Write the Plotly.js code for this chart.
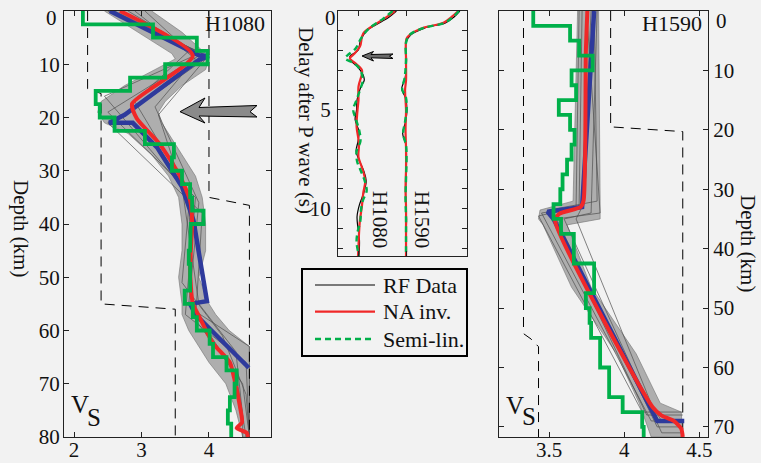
<!DOCTYPE html>
<html><head><meta charset="utf-8">
<script src="https://cdn.plot.ly/plotly-3.0.1.min.js"></script>
<style>html,body{margin:0;padding:0;background:#f2f2f2;}#c{width:761px;height:463px;}</style>
</head><body><div id="c"></div>
<script>
// ---------------- DATA ----------------
// Left panel H1080 : Vs (km/s) vs depth (km)
const h1080RedDepth = [0,8.4,17.4,20.2,25,31,35.6,39.5,48.7,54.9,57.5,62.4,66,69.3,74.3,77.3,78.3,79.2,80];
const h1080RedVs    = [2.68,3.76,2.86,2.93,3.27,3.57,3.72,3.75,3.72,3.76,3.86,4.06,4.31,4.38,4.46,4.49,4.41,4.56,4.58];
const h1080BlueDepth = [0,8.3,8.5,9.2,19.5,21,21,25.6,33,39.3,54.5,55,57,66.5,67];
const h1080BlueVs    = [2.53,3.85,4.0,3.85,2.75,2.52,2.87,3.23,3.6,3.77,3.97,3.72,3.8,4.57,4.59];
const h1080GreenLayerVs = [2.13,3.17,3.82,3.98,3.35,2.83,2.32,2.38,2.6,3.05,3.48,3.45,3.6,3.72,3.75,3.92,
                           3.73,3.72,3.70,3.72,3.72,3.64,3.76,3.82,4.01,4.06,4.26,4.41,4.38,4.31,4.28,4.33];
const h1080EnvDepth = [0,4,8,9,11,14,17,19,21,23,27,31,35,40,45,50,55,57,60,63,66,70,75,80];
const h1080EnvMin   = [2.45,2.95,3.45,3.5,3.2,2.75,2.4,2.35,2.45,2.8,3.15,3.4,3.55,3.6,3.6,3.55,3.6,3.6,3.7,3.85,4.0,4.25,4.4,4.5];
const h1080EnvMax   = [3.15,3.6,3.95,4.0,3.95,3.6,3.35,3.25,3.3,3.4,3.6,3.8,3.9,3.95,3.95,3.85,4.0,4.1,4.3,4.6,4.6,4.6,4.6,4.6];
const h1080Models = [
  {d:[0,8,19,35,57,66,80],        v:[2.6,3.9,2.5,3.8,3.65,4.55,4.6]},
  {d:[0,9,18,36,55,68,80],        v:[2.9,3.8,3.2,3.85,3.7,4.4,4.55]},
  {d:[0,8.5,20,21,38,58,70,80],   v:[2.5,4.0,2.7,2.5,3.9,3.8,4.5,4.6]},
  {d:[0,7.5,17,34,56,63,80],      v:[3.05,3.7,2.9,3.7,3.75,4.6,4.6]},
  {d:[0,9,19.5,37,51,61,72,80],   v:[2.7,3.95,3.25,3.7,3.6,4.2,4.55,4.6]},
  {d:[0,8,16,33,55,64,76,80],     v:[2.8,3.85,2.45,3.6,3.85,4.4,4.5,4.5]}
];
const h1080LowBoundDepth = [0,14.6,15.5,55,56,80];
const h1080LowBoundVs    = [2.2,2.2,2.4,2.4,3.5,3.5];
const h1080UpBoundDepth  = [0,35,36.5,80];
const h1080UpBoundVs     = [4.0,4.0,4.6,4.6];

// Right panel H1590
const h1590RedDepth = [0,7,31.9,33,34.1,35.2,66.7,68.1,69,70.3,71.7];
const h1590RedVs    = [3.755,3.745,3.73,3.71,3.57,3.54,4.19,4.25,4.33,4.38,4.39];
const h1590BlueDepth = [0,33,33.8,35,69,69];
const h1590BlueVs    = [3.80,3.72,3.49,3.53,4.22,4.40];
const h1590GreenLayerVs = [3.395,3.64,3.70,3.79,3.65,3.68,3.565,3.64,3.67,3.65,3.62,3.59,3.575,3.53,3.58,
                           3.665,3.665,3.80,3.80,3.745,3.77,3.78,3.84,3.84,3.90,3.90,3.99,4.12,4.13];
const h1590EnvDepthLow = [0,32,33.5,35,36,46.5,57.7,66,71.7];
const h1590EnvMin      = [3.69,3.66,3.44,3.43,3.46,3.65,3.95,4.1,4.18];
const h1590EnvDepthUp  = [0,32,33.5,35,36,46.5,57.7,66,67.5,71.7];
const h1590EnvMax      = [3.83,3.84,3.84,3.84,3.62,3.78,4.08,4.24,4.38,4.39];
const h1590Models = [
  {d:[0,33,34,69,69],     v:[3.72,3.7,3.45,4.18,4.38]},
  {d:[0,32,33.5,68,68],   v:[3.8,3.82,3.5,4.15,4.39]},
  {d:[0,34,35,70,70],     v:[3.75,3.84,3.55,4.22,4.39]},
  {d:[0,33,34.5,67.5,67.5], v:[3.7,3.68,3.43,4.12,4.39]},
  {d:[0,34,35,71,71],     v:[3.82,3.78,3.6,4.25,4.39]},
  {d:[0,33,35,66.7,69,69], v:[3.78,3.72,3.68,4.19,4.25,4.39]}
];
const h1590LowBoundDepth = [0,54.3,55.2,56.5,71.7];
const h1590LowBoundVs    = [3.33,3.33,3.38,3.43,3.43];
const h1590UpBoundDepth  = [0,19.5,20.3,71.7];
const h1590UpBoundVs     = [3.91,3.91,4.39,4.39];

// Middle panel : receiver functions (delay s, amplitude)
const rf1080DataT = [0,0.3,0.6,1.0,1.5,2.0,2.3,2.55,2.85,3.2,3.5,3.9,4.5,5.0,5.5,6.1,6.6,7.1,7.6,8.1,8.6,9.2,9.8,10.4,11.0,11.6,12.4];
const rf1080DataA = [0.8,0.65,0.45,0.18,0.05,0.0,-0.17,-0.13,0.0,0.1,0.13,0.05,-0.02,-0.03,-0.06,0.02,0.0,-0.04,0.03,0.12,0.17,0.12,0.03,-0.02,0.0,0.03,0.02];
const rf1080NaT = [0,0.3,0.63,1.13,1.8,2.22,2.39,2.64,2.98,3.2,3.82,4.5,5.0,5.85,6.7,7.4,7.9,8.6,9.2,9.9,10.6,11.3,11.9,12.4];
const rf1080NaA = [0.77,0.6,0.39,0.11,0.04,-0.1,-0.17,-0.06,0.08,0.08,0.01,0.01,-0.01,-0.03,0.02,0.01,0.08,0.15,0.11,0.08,0.04,0.02,0.01,0.0];
const rf1080SlT = [0,0.4,0.9,1.4,1.9,2.2,2.4,2.65,3.0,3.5,4.0,4.5,5.0,5.5,6.1,6.6,7.1,7.6,8.1,8.6,9.1,9.6,10.1,10.6,11.2,11.7,12.4];
const rf1080SlA = [0.72,0.52,0.22,0.06,-0.05,-0.2,-0.27,-0.08,0.05,0.1,0.04,-0.03,-0.1,-0.04,0.03,0.05,-0.03,-0.02,0.06,0.14,0.18,0.1,0.06,0.05,-0.01,-0.03,0.02];
const rf1590DataT = [0,0.3,0.6,0.85,1.2,1.6,2.5,3.4,3.95,4.4,5.0,5.6,6.2,6.8,7.5,8.5,9.5,10.5,11.5,12.4];
const rf1590DataA = [1.12,1.0,0.82,0.4,0.1,0.0,0.01,-0.02,-0.09,-0.01,0.02,-0.01,-0.07,0.0,0.01,0.0,-0.01,0.01,0.0,0.0];
const rf1590NaT = [0,0.3,0.6,0.85,1.2,1.4,2.5,3.5,4.0,5,6,7,8,9,10,11,12.4];
const rf1590NaA = [1.09,0.95,0.78,0.36,0.08,0.01,0.0,0.0,-0.02,0.0,-0.01,0.0,0.0,-0.01,0.0,0.0,0.0];
const rf1590SlT = [0,0.3,0.6,0.85,1.2,1.6,2.5,3.4,3.95,4.4,5.0,5.6,6.2,6.8,7.5,8.5,9.5,10.5,11.5,12.4];
const rf1590SlA = [1.1,0.98,0.8,0.38,0.08,0.0,0.0,-0.03,-0.08,0.0,0.01,-0.02,-0.06,0.0,0.01,0.0,-0.01,0.0,0.0,0.0];

const depthTicksLeft = [0,10,20,30,40,50,60,70,80];
const depthTicksRight = [0,10,20,30,40,50,60,70];
const vsTicksLeft = [2,3,4];
const vsTicksRight = [3.5,4,4.5];
const vsTickTextRight = ['3.5','4','4.5'];
const delayTicks = [0,1,2,3,4,5,6,7,8,9,10,11,12];
const delayLabels = ['','','','','','5','','','','','10','',''];
const legendNames = ['RF Data','NA inv.','Semi-lin.'];
const layerThickness = 2.5;

// ---------------- DRAWING ----------------
const W=761, H=463;
const X = p => p/W, Y = p => 1 - p/H;
const FONT = 'Liberation Serif, Times New Roman, serif';
const RED='#f02828', BLUE='#2e3a9c', GREEN='#00b04a';

function steps(layerVs, maxD){
  const x=[], y=[];
  layerVs.forEach((v,i)=>{ x.push(v,v); y.push(i*layerThickness, Math.min((i+1)*layerThickness, maxD)); });
  return {x,y};
}
const traces=[];
function addPanel(xa, ya, env, models, low, up, blue, red, greenLayers, maxD){
  traces.push({x: env.x, y: env.y, xaxis:xa, yaxis:ya, mode:'lines', fill:'toself',
    fillcolor:'rgba(145,145,145,0.7)', line:{color:'rgba(120,120,120,0.8)', width:0.8}, showlegend:false, hoverinfo:'skip'});
  models.forEach(m=>traces.push({x:m.v, y:m.d, xaxis:xa, yaxis:ya, mode:'lines', line:{color:'rgba(80,80,80,0.7)', width:1}, showlegend:false}));
  [low, up].forEach(b=>traces.push({x:b.v, y:b.d, xaxis:xa, yaxis:ya, mode:'lines', line:{color:'#000', width:1, dash:'10px,7px'}, showlegend:false}));
  traces.push({x:blue.v, y:blue.d, xaxis:xa, yaxis:ya, mode:'lines', line:{color:BLUE, width:4.5}, showlegend:false});
  traces.push({x:red.v, y:red.d, xaxis:xa, yaxis:ya, mode:'lines', line:{color:RED, width:4, shape:'spline', smoothing:0.6}, showlegend:false});
  const g = steps(greenLayers, maxD);
  traces.push({x:g.x, y:g.y, xaxis:xa, yaxis:ya, mode:'lines', line:{color:GREEN, width:3.8}, showlegend:false});
}
addPanel('x','y',
  {x: h1080EnvMin.concat(h1080EnvMax.slice().reverse()), y: h1080EnvDepth.concat(h1080EnvDepth.slice().reverse())},
  h1080Models,
  {v:h1080LowBoundVs, d:h1080LowBoundDepth}, {v:h1080UpBoundVs, d:h1080UpBoundDepth},
  {v:h1080BlueVs, d:h1080BlueDepth}, {v:h1080RedVs, d:h1080RedDepth}, h1080GreenLayerVs, 80);
addPanel('x3','y3',
  {x: h1590EnvMin.concat(h1590EnvMax.slice().reverse()), y: h1590EnvDepthLow.concat(h1590EnvDepthUp.slice().reverse())},
  h1590Models,
  {v:h1590LowBoundVs, d:h1590LowBoundDepth}, {v:h1590UpBoundVs, d:h1590UpBoundDepth},
  {v:h1590BlueVs, d:h1590BlueDepth}, {v:h1590RedVs, d:h1590RedDepth}, h1590GreenLayerVs, 71.7);

// receiver functions: station baselines
const baseline = {h1080:0, h1590:1};
const sData={line:{color:'#000', width:1.2, shape:'spline'}};
const sNa={line:{color:RED, width:2.2, shape:'spline'}};
const sSl={line:{color:GREEN, width:2.4, dash:'6px,4px', shape:'spline'}};
function rf(t,a,base,style){
  traces.push(Object.assign({x:a.map(v=>v+base), y:t, xaxis:'x2', yaxis:'y2', mode:'lines', showlegend:false}, style));
}
rf(rf1080DataT, rf1080DataA, baseline.h1080, sData);
rf(rf1080NaT, rf1080NaA, baseline.h1080, sNa);
rf(rf1080SlT, rf1080SlA, baseline.h1080, sSl);
rf(rf1590DataT, rf1590DataA, baseline.h1590, sData);
rf(rf1590NaT, rf1590NaA, baseline.h1590, sNa);
rf(rf1590SlT, rf1590SlA, baseline.h1590, sSl);

const axCommon = {showgrid:false, zeroline:false, showline:true, linecolor:'#222', linewidth:1,
  ticks:'inside', ticklen:5, tickcolor:'#222', mirror:'ticks', tickfont:{family:FONT, size:21, color:'#111'}, fixedrange:true};
const layout = {
  width:W, height:H, margin:{l:0,r:0,t:0,b:0}, paper_bgcolor:'#f2f2f2', plot_bgcolor:'#f2f2f2',
  font:{family:FONT, color:'#111'}, showlegend:false,
  xaxis: Object.assign({}, axCommon, {domain:[X(64),X(271)], range:[1.85,4.92], tickvals:vsTicksLeft, anchor:'y', ticklabelstandoff:-6}),
  yaxis: Object.assign({}, axCommon, {domain:[Y(437),Y(11)], range:[80,0], tickvals:depthTicksLeft, ticktext:depthTicksLeft.map(v=>v===0?'':String(v)), anchor:'x', ticklabelstandoff:-1}),
  xaxis2: Object.assign({}, axCommon, {domain:[X(338),X(467)], range:[-0.417,2.27], tickvals:[baseline.h1080, baseline.h1590], showticklabels:false, anchor:'y2'}),
  yaxis2: Object.assign({}, axCommon, {domain:[Y(256),Y(11)], range:[12.4,0], tickvals:delayTicks, ticktext:delayLabels, anchor:'x2', ticklabelstandoff:2}),
  xaxis3: Object.assign({}, axCommon, {domain:[X(499),X(708)], range:[3.167,4.558], tickvals:vsTicksRight, ticktext:vsTickTextRight, anchor:'y3', ticklabelstandoff:-6}),
  yaxis3: Object.assign({}, axCommon, {domain:[Y(437),Y(11)], range:[71.7,0], tickvals:depthTicksRight, ticktext:depthTicksRight.map(v=>v===0?'':String(v)), anchor:'x3', side:'right', ticklabelstandoff:0}),
  shapes:[],
  annotations:[]
};
function pathPx(pts){ return 'M' + pts.map(p=>X(p[0]).toFixed(5)+','+Y(p[1]).toFixed(5)).join(' L') + ' Z'; }
layout.shapes.push({type:'path', xref:'paper', yref:'paper', path: pathPx([[180,111.7],[205,98],[199,107.5],[257,105.5],[250,111.7],[257,117],[199,116],[205,123]]),
  fillcolor:'#8a8a8a', line:{color:'#000', width:1}});
layout.shapes.push({type:'path', xref:'paper', yref:'paper', path: pathPx([[362,56],[373.5,51.5],[371,54.5],[393,54],[389.5,56.2],[393,58.5],[371,57.8],[373.5,61]]),
  fillcolor:'#6a6a6a', line:{color:'#000', width:1}});
function txt(t,x,y,size,angle,anchor){ layout.annotations.push({text:t, x:X(x), y:Y(y), xref:'paper', yref:'paper', showarrow:false,
  xanchor:anchor||'center', yanchor:'middle', textangle:angle||0, font:{family:FONT, size:size, color:'#111'}}); }
// zero labels sit slightly below the top frame, as in the reference
txt('0',51,18.5,21); txt('0',330,18.5,21); txt('0',721,21,21);
txt('H1080',235,24,22); txt('H1590',672,24,22);
txt('Depth (km)',21,228,21,90); txt('Depth (km)',748,243,21,90);
txt('Delay after P wave (s)',306,120,21,90);
txt('H1080',380,219,21,90); txt('H1590',422,219,21,90);
txt('V',79.5,404,25); txt('S',94,417,25);
txt('V',514.5,405,25); txt('S',529,416.5,25);

// legend (drawn manually to match the reference box)
layout.shapes.push({type:'rect', xref:'paper', yref:'paper', x0:X(302), x1:X(467), y0:Y(356), y1:Y(269), line:{color:'#000', width:2}, fillcolor:'rgba(0,0,0,0)'});
const legendStyles = [sData, sNa, sSl];
const legendRows = [285, 311.7, 339];
legendNames.forEach((n,i)=>{
  const st = legendStyles[i].line;
  layout.shapes.push({type:'line', xref:'paper', yref:'paper', x0:X(315), x1:X(375), y0:Y(legendRows[i]), y1:Y(legendRows[i]),
    line:{color:st.color, width:st.width, dash:st.dash||'solid'}});
  txt(n,381,legendRows[i],22,0,'left');
});

Plotly.newPlot('c', traces, layout, {staticPlot:true, displayModeBar:false});
</script></body></html>
